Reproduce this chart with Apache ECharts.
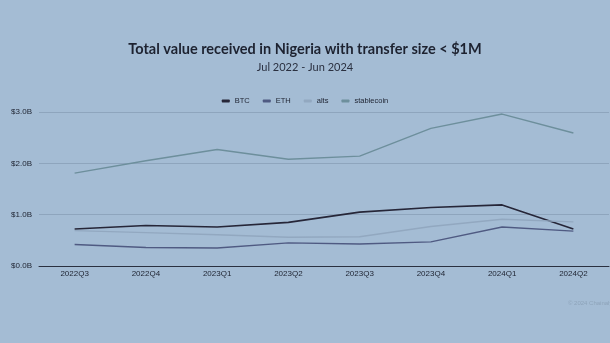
<!DOCTYPE html>
<html><head><meta charset="utf-8">
<script src="https://cdn.jsdelivr.net/npm/echarts@6/dist/echarts.min.js"></script>
<style>html,body{margin:0;padding:0;background:#a4bcd4;}#c{width:610px;height:343px;}</style>
</head><body><div id="c"></div>
<script>
const categories = ['2022Q3','2022Q4','2023Q1','2023Q2','2023Q3','2023Q4','2024Q1','2024Q2'];
const btc =        [0.72, 0.79, 0.76, 0.85, 1.05, 1.14, 1.19, 0.72];
const eth =        [0.42, 0.36, 0.35, 0.45, 0.43, 0.47, 0.76, 0.68];
const alts =       [0.69, 0.65, 0.61, 0.56, 0.57, 0.77, 0.91, 0.86];
const stablecoin = [1.81, 2.05, 2.27, 2.08, 2.14, 2.68, 2.96, 2.59];
const yTicks = [0, 1, 2, 3];

const chart = echarts.init(document.getElementById('c'));
const mk = (name, data, color, w) => ({
  name, type: 'line', data, symbol: 'none', smooth: false,
  lineStyle: { color, width: w }, itemStyle: { color }
});
chart.setOption({
  backgroundColor: '#a4bcd4',
  animation: false,
  title: [{
    text: 'Total value received in Nigeria with transfer size < $1M',
    left: 'center', top: 37,
    textStyle: { fontFamily: 'Lato', fontSize: 14.5, fontWeight: 'bold', color: '#1d2230' }
  }, {
    text: 'Jul 2022 - Jun 2024',
    left: 'center', top: 57,
    textStyle: { fontFamily: 'Lato', fontSize: 11, fontWeight: 'normal', color: '#2a3040' }
  }, {
    text: '© 2024 Chainalysis',
    left: 563, top: 295,
    textStyle: { fontFamily: 'Liberation Sans', fontSize: 6, fontWeight: 'normal', color: '#8ea4ba' }
  }],
  legend: {
    top: 92, left: 'center', itemWidth: 8, itemHeight: 3, itemGap: 13,
    icon: 'roundRect',
    textStyle: { fontFamily: 'Liberation Sans', fontSize: 7.5, color: '#1d2230' },
    data: ['BTC','ETH','alts','stablecoin']
  },
  grid: { left: 39, right: 1, top: 112, bottom: 77 },
  xAxis: {
    type: 'category', data: categories, boundaryGap: true,
    axisLine: { lineStyle: { color: '#2a3040', width: 1 } },
    axisTick: { show: false },
    axisLabel: { fontFamily: 'Liberation Sans', fontSize: 8, color: '#1d2230', margin: 4 }
  },
  yAxis: {
    type: 'value', min: 0, max: 3, interval: 1,
    axisLine: { show: false }, axisTick: { show: false },
    splitLine: { lineStyle: { color: '#8ea5bd', width: 1 } },
    axisLabel: { fontFamily: 'Liberation Sans', fontSize: 8, color: '#1d2230', margin: 7,
      formatter: v => yTicks.includes(v) ? '$' + v.toFixed(1) + 'B' : '' }
  },
  series: [
    mk('BTC', btc, '#262638', 1.6),
    mk('ETH', eth, '#4f5a82', 1.4),
    mk('alts', alts, '#92a8c0', 1.4),
    mk('stablecoin', stablecoin, '#6d8f9c', 1.4)
  ]
});
</script></body></html>
